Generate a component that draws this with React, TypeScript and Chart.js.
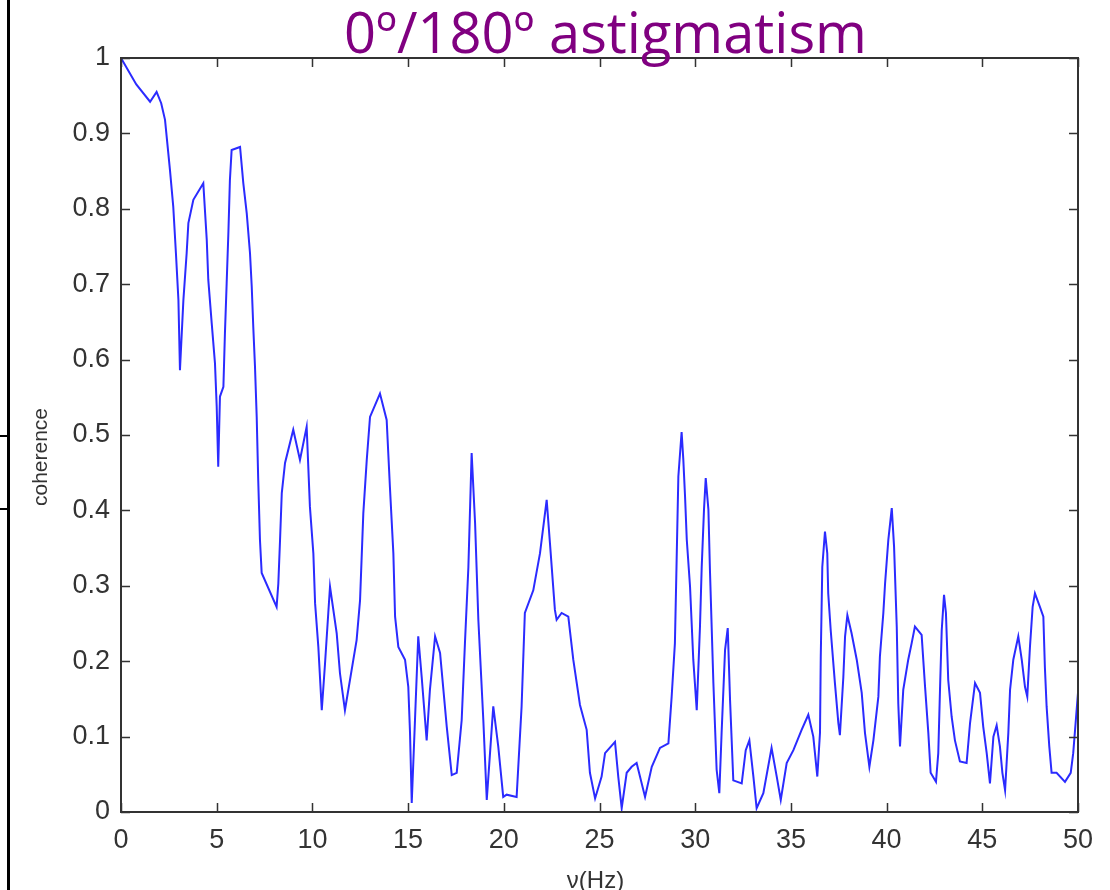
import React, { useEffect, useRef } from "react";
import { Chart, registerables } from "chart.js";

Chart.register(...registerables);

const titleText = "0º/180º astigmatism";
const xAxisLabel = "ν(Hz)";
const yAxisLabel = "coherence";

const xTickValues = [0, 5, 10, 15, 20, 25, 30, 35, 40, 45, 50];
const yTickLabels = ["0", "0.1", "0.2", "0.3", "0.4", "0.5", "0.6", "0.7", "0.8", "0.9", "1"];

const freqHz = [
  0, 0.8, 1.52, 1.86, 2.1, 2.3, 2.56, 2.73, 2.87, 3.0, 3.08, 3.26, 3.43, 3.52, 3.78, 4.3, 4.48, 4.56, 4.74, 4.91,
  5.0, 5.08, 5.17, 5.35, 5.43, 5.52, 5.61, 5.69, 5.78, 6.22, 6.39, 6.57, 6.74, 6.83, 6.91, 7.0, 7.09, 7.17, 7.26, 7.35,
  8.13, 8.22, 8.31, 8.4, 8.57, 9.0, 9.35, 9.7, 9.87, 10.05, 10.14, 10.31, 10.49, 10.66, 10.83, 10.92, 11.27, 11.44, 11.7, 12.14,
  12.31, 12.49, 12.66, 12.84, 13.01, 13.53, 13.88, 14.05, 14.23, 14.32, 14.49, 14.84, 15.01, 15.1, 15.19, 15.36, 15.53, 15.71, 15.97, 16.14,
  16.41, 16.67, 17.02, 17.28, 17.54, 17.8, 17.97, 18.15, 18.32, 18.5, 18.67, 18.93, 19.11, 19.45, 19.71, 19.97, 20.15, 20.67, 20.93, 21.1,
  21.54, 21.89, 22.24, 22.41, 22.67, 22.76, 23.02, 23.37, 23.63, 23.98, 24.33, 24.5, 24.77, 25.11, 25.29, 25.81, 25.98, 26.16, 26.42, 26.68,
  26.94, 27.38, 27.73, 28.16, 28.6, 28.77, 28.94, 29.03, 29.12, 29.29, 29.38, 29.47, 29.56, 29.73, 29.9, 30.08, 30.25, 30.34, 30.46, 30.55,
  30.69, 30.77, 30.95, 31.12, 31.26, 31.38, 31.56, 31.7, 31.82, 31.99, 32.43, 32.64, 32.83, 33.04, 33.21, 33.56, 33.99, 34.26, 34.47, 34.78,
  35.13, 35.56, 35.91, 36.17, 36.38, 36.52, 36.56, 36.64, 36.78, 36.9, 36.95, 37.08, 37.3, 37.48, 37.56, 37.74, 37.83, 37.95, 38.17, 38.44,
  38.7, 38.87, 39.1, 39.31, 39.57, 39.65, 39.83, 39.92, 40.09, 40.27, 40.39, 40.53, 40.61, 40.7, 40.87, 41.13, 41.31, 41.48, 41.83, 42.01,
  42.18, 42.3, 42.58, 42.7, 42.79, 42.88, 43.0, 43.1, 43.22, 43.4, 43.57, 43.83, 44.18, 44.36, 44.62, 44.88, 45.05, 45.23, 45.4, 45.58,
  45.75, 45.92, 46.05, 46.19, 46.36, 46.45, 46.62, 46.88, 47.06, 47.23, 47.35, 47.49, 47.63, 47.75, 48.01, 48.19, 48.27, 48.36, 48.5, 48.62,
  48.88, 49.32, 49.62, 49.75, 49.9, 50.0,
];

const coherence = [
  1.0, 0.965, 0.942, 0.955, 0.94, 0.918, 0.851, 0.803, 0.741, 0.679, 0.586, 0.679, 0.741, 0.781, 0.812, 0.834, 0.759, 0.706, 0.648, 0.595,
  0.538, 0.458, 0.551, 0.564, 0.635, 0.701, 0.768, 0.838, 0.878, 0.882, 0.834, 0.794, 0.741, 0.697, 0.644, 0.591, 0.524, 0.44, 0.361, 0.317,
  0.272, 0.303, 0.361, 0.423, 0.463, 0.507, 0.467, 0.511, 0.405, 0.343, 0.277, 0.219, 0.135, 0.197, 0.264, 0.299, 0.237, 0.184, 0.135, 0.202,
  0.228, 0.281, 0.396, 0.467, 0.524, 0.555, 0.52, 0.431, 0.343, 0.259, 0.219, 0.202, 0.166, 0.105, 0.012, 0.122, 0.233, 0.179, 0.095, 0.162,
  0.233, 0.211, 0.113, 0.049, 0.052, 0.122, 0.224, 0.325, 0.476, 0.383, 0.255, 0.122, 0.016, 0.14, 0.087, 0.02, 0.023, 0.02, 0.14, 0.264,
  0.294, 0.343, 0.414, 0.357, 0.268, 0.255, 0.264, 0.259, 0.202, 0.142, 0.109, 0.052, 0.018, 0.047, 0.078, 0.093, 0.047, 0.005, 0.052, 0.06,
  0.065, 0.02, 0.06, 0.085, 0.091, 0.153, 0.224, 0.334, 0.445, 0.504, 0.467, 0.418, 0.361, 0.299, 0.202, 0.135, 0.246, 0.325, 0.401, 0.443,
  0.401, 0.321, 0.171, 0.056, 0.025, 0.105, 0.215, 0.244, 0.149, 0.042, 0.038, 0.082, 0.095, 0.047, 0.005, 0.025, 0.085, 0.047, 0.016, 0.065,
  0.082, 0.109, 0.129, 0.1, 0.047, 0.105, 0.206, 0.325, 0.372, 0.343, 0.29, 0.241, 0.171, 0.118, 0.102, 0.179, 0.233, 0.261, 0.237, 0.202,
  0.158, 0.105, 0.06, 0.095, 0.153, 0.206, 0.264, 0.303, 0.361, 0.403, 0.352, 0.246, 0.144, 0.087, 0.162, 0.202, 0.224, 0.246, 0.235, 0.166,
  0.105, 0.052, 0.04, 0.078, 0.162, 0.241, 0.288, 0.264, 0.175, 0.126, 0.095, 0.067, 0.065, 0.118, 0.171, 0.158, 0.113, 0.078, 0.038, 0.1,
  0.115, 0.087, 0.052, 0.029, 0.105, 0.162, 0.202, 0.233, 0.202, 0.166, 0.153, 0.219, 0.272, 0.29, 0.272, 0.259, 0.192, 0.14, 0.087, 0.052,
  0.052, 0.04, 0.052, 0.078, 0.126, 0.158,
];

const AXIS_COLOR = "#333333";
const LINE_COLOR = "#2b2bff";
const TITLE_COLOR = "#800080";

const decorPlugin = {
  id: "matlabDecor",
  afterDraw(chart: any) {
    const { ctx, chartArea, scales } = chart;
    const { left, right, top, bottom } = chartArea;
    const xs = scales.x;
    const ys = scales.y;
    ctx.save();
    // frame
    ctx.strokeStyle = AXIS_COLOR;
    ctx.lineWidth = 2;
    ctx.strokeRect(left, top, right - left, bottom - top);
    // inward ticks
    const tl = 9;
    ctx.lineWidth = 1.5;
    ctx.beginPath();
    xs.ticks.forEach((t: any) => {
      const px = Math.round(xs.getPixelForValue(t.value)) + 0.5;
      ctx.moveTo(px, bottom);
      ctx.lineTo(px, bottom - tl);
      ctx.moveTo(px, top);
      ctx.lineTo(px, top + tl);
    });
    ys.ticks.forEach((t: any) => {
      const py = Math.round(ys.getPixelForValue(t.value)) + 0.5;
      ctx.moveTo(left, py);
      ctx.lineTo(left + tl, py);
      ctx.moveTo(right, py);
      ctx.lineTo(right - tl, py);
    });
    ctx.stroke();
    // title
    ctx.fillStyle = TITLE_COLOR;
    ctx.font = "56px 'Open Sans'";
    ctx.textAlign = "center";
    ctx.textBaseline = "alphabetic";
    ctx.fillText(titleText, (left + right) / 2 + 6, top - 5);
    // x label
    ctx.fillStyle = AXIS_COLOR;
    ctx.font = "24px 'Liberation Sans'";
    ctx.fillText(xAxisLabel, (left + right) / 2 - 4, bottom + 76);
    // y label
    ctx.save();
    ctx.translate(left - 80, (top + bottom) / 2 + 22);
    ctx.rotate(-Math.PI / 2);
    ctx.textBaseline = "middle";
    ctx.font = "21px 'Liberation Sans'";
    ctx.fillText(yAxisLabel, 0, 0);
    ctx.restore();
    ctx.restore();
  },
};

export default function App() {
  const canvasRef = useRef<HTMLCanvasElement | null>(null);

  useEffect(() => {
    if (!canvasRef.current) return;
    const points = freqHz.map((f, i) => ({ x: f, y: coherence[i] }));
    const chart = new Chart(canvasRef.current, {
      type: "line",
      data: {
        datasets: [
          {
            data: points,
            borderColor: LINE_COLOR,
            borderWidth: 2,
            pointRadius: 0,
            tension: 0,
            fill: false,
          },
        ],
      },
      options: {
        animation: false,
        responsive: false,
        maintainAspectRatio: false,
        layout: { padding: { left: 0, top: 58, right: 32, bottom: 0 } },
        plugins: {
          legend: { display: false },
          tooltip: { enabled: false },
          title: { display: false },
        },
        scales: {
          x: {
            type: "linear",
            min: 0,
            max: 50,
            afterBuildTicks: (scale: any) => {
              scale.ticks = xTickValues.map((v) => ({ value: v }));
            },
            ticks: {
              color: AXIS_COLOR,
              font: { family: "'Liberation Sans'", size: 27 },
              padding: 12,
              maxRotation: 0,
              autoSkip: false,
              callback: (v: any) => String(v),
            },
            grid: { display: false, drawTicks: false },
            border: { display: true, color: AXIS_COLOR, width: 2 },
            afterFit: (scale: any) => {
              scale.height = 78;
            },
          },
          y: {
            type: "linear",
            min: 0,
            max: 1,
            ticks: {
              stepSize: 0.1,
              color: AXIS_COLOR,
              font: { family: "'Liberation Sans'", size: 27 },
              padding: 11,
              autoSkip: false,
              callback: (_v: any, i: number) => yTickLabels[i],
            },
            grid: { display: false, drawTicks: false },
            border: { display: true, color: AXIS_COLOR, width: 2 },
            afterFit: (scale: any) => {
              scale.width = 121;
            },
          },
        },
      },
      plugins: [decorPlugin],
    });
    return () => chart.destroy();
  }, []);

  return (
    <div style={{ position: "absolute", left: 0, top: 0, width: 1110, height: 890, background: "#fff", overflow: "hidden" }}>
      <canvas ref={canvasRef} width={1110} height={890} style={{ display: "block" }} />
      <div style={{ position: "absolute", left: 7, top: 0, width: 3, height: 890, background: "#000" }} />
      <div style={{ position: "absolute", left: 0, top: 435, width: 9, height: 2, background: "#000" }} />
      <div style={{ position: "absolute", left: 0, top: 508, width: 9, height: 2, background: "#000" }} />
    </div>
  );
}
